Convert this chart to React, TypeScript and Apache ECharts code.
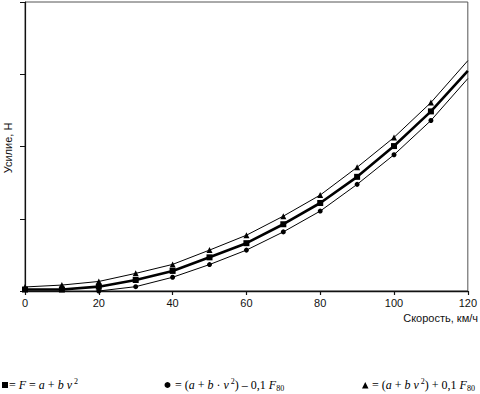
import React, { useEffect, useRef } from "react";
import * as echarts from "echarts";

const speeds = [0, 10, 20, 30, 40, 50, 60, 70, 80, 90, 100, 110, 120];
const forceMain = [10, 10, 30, 76, 139, 233, 331, 462, 609, 790, 1003, 1243, 1524];
const forceLower = [-41, -35, 0, 30, 95, 183, 283, 409, 553, 738, 943, 1180, 1470];
const forceUpper = [28, 41, 66, 122, 184, 283, 386, 518, 664, 856, 1063, 1304, 1594];
const xAxisName = "Скорость, км/ч";
const yAxisName = "Усилие, Н";
const seriesNames = ["F = a + b v²", "(a + b · v²) − 0,1 F80", "(a + b v²) + 0,1 F80"];

const SANS = "Liberation Sans, Arial, sans-serif";
const SERIF = "Liberation Serif, Times New Roman, serif";

function toData(vals: number[]) {
  const last = speeds.length - 1;
  return speeds.map((s, i) =>
    i === last ? { value: [s, vals[i]], symbol: "none" } : [s, vals[i]]
  );
}

const rich = {
  n: { fontFamily: SERIF, fontSize: 12, color: "#000", lineHeight: 15 },
  i: { fontFamily: SERIF, fontSize: 12, fontStyle: "italic", color: "#000", lineHeight: 15 },
  sup: { fontFamily: SERIF, fontSize: 8, color: "#000", verticalAlign: "top", lineHeight: 8 },
  sub: { fontFamily: SERIF, fontSize: 8, color: "#000", verticalAlign: "bottom", lineHeight: 8 },
};

export default function App() {
  const ref = useRef<HTMLDivElement>(null);
  useEffect(() => {
    if (!ref.current) return;
    const chart = echarts.init(ref.current, null, { renderer: "svg" });
    chart.setOption({
      animation: false,
      backgroundColor: "#fff",
      grid: {
        left: 25,
        right: 12,
        top: 2,
        bottom: 103,
        show: true,
        borderColor: "#555",
        borderWidth: 1,
      },
      xAxis: {
        type: "value",
        min: 0,
        max: 120,
        interval: 20,
        axisLine: { lineStyle: { color: "#111", width: 1.4 } },
        axisTick: { show: true, length: 4, lineStyle: { color: "#111", width: 1.2 } },
        axisLabel: { color: "#111", fontFamily: SANS, fontSize: 11, margin: 6 },
        splitLine: { show: false },
      },
      yAxis: {
        type: "value",
        min: 0,
        max: 2000,
        interval: 500,
        axisLine: { show: true, lineStyle: { color: "#111", width: 1.2 } },
        axisTick: { show: true, length: 5, lineStyle: { color: "#111", width: 1 } },
        axisLabel: { show: false },
        splitLine: { show: false },
      },
      series: [
        {
          name: seriesNames[0],
          type: "line",
          data: toData(forceMain),
          symbol: "rect",
          symbolSize: 6,
          lineStyle: { color: "#000", width: 2.6 },
          itemStyle: { color: "#000" },
          z: 3,
        },
        {
          name: seriesNames[1],
          type: "line",
          data: toData(forceLower),
          symbol: "circle",
          symbolSize: 5,
          lineStyle: { color: "#000", width: 1 },
          itemStyle: { color: "#000" },
        },
        {
          name: seriesNames[2],
          type: "line",
          data: toData(forceUpper),
          symbol: "triangle",
          symbolSize: 6,
          lineStyle: { color: "#000", width: 1 },
          itemStyle: { color: "#000" },
        },
      ],
      graphic: [
        {
          type: "text",
          x: 8,
          y: 148,
          rotation: Math.PI / 2,
          style: {
            text: yAxisName,
            fontFamily: SANS,
            fontSize: 11,
            fill: "#111",
            align: "center",
            verticalAlign: "middle",
          },
        },
        {
          type: "text",
          x: 478,
          y: 318,
          style: {
            text: xAxisName,
            fontFamily: SANS,
            fontSize: 11,
            fill: "#111",
            align: "right",
            verticalAlign: "middle",
          },
        },
        { type: "rect", shape: { x: 2, y: 382, width: 6, height: 6 }, style: { fill: "#000" } },
        {
          type: "text",
          x: 9,
          y: 385,
          style: {
            text: "{n|= }{i|F}{n| = }{i|a}{n| + }{i|b v}{sup| 2}",
            rich,
            align: "left",
            verticalAlign: "middle",
          },
        },
        { type: "circle", shape: { cx: 167.5, cy: 385, r: 3 }, style: { fill: "#000" } },
        {
          type: "text",
          x: 175,
          y: 385,
          style: {
            text: "{n|= (}{i|a}{n| + }{i|b}{n| · }{i|v}{sup| 2}{n|) – 0,1 }{i|F}{sub|80}",
            rich,
            align: "left",
            verticalAlign: "middle",
          },
        },
        {
          type: "polygon",
          shape: { points: [[362, 388.5], [368.5, 388.5], [365.25, 382]] },
          style: { fill: "#000" },
        },
        {
          type: "text",
          x: 372,
          y: 385,
          style: {
            text: "{n|= (}{i|a}{n| + }{i|b v}{sup| 2}{n|) + 0,1 }{i|F}{sub|80}",
            rich,
            align: "left",
            verticalAlign: "middle",
          },
        },
      ],
    });
    return () => chart.dispose();
  }, []);
  return (
    <div
      ref={ref}
      style={{ position: "absolute", left: 0, top: 0, width: 480, height: 394 }}
    />
  );
}
